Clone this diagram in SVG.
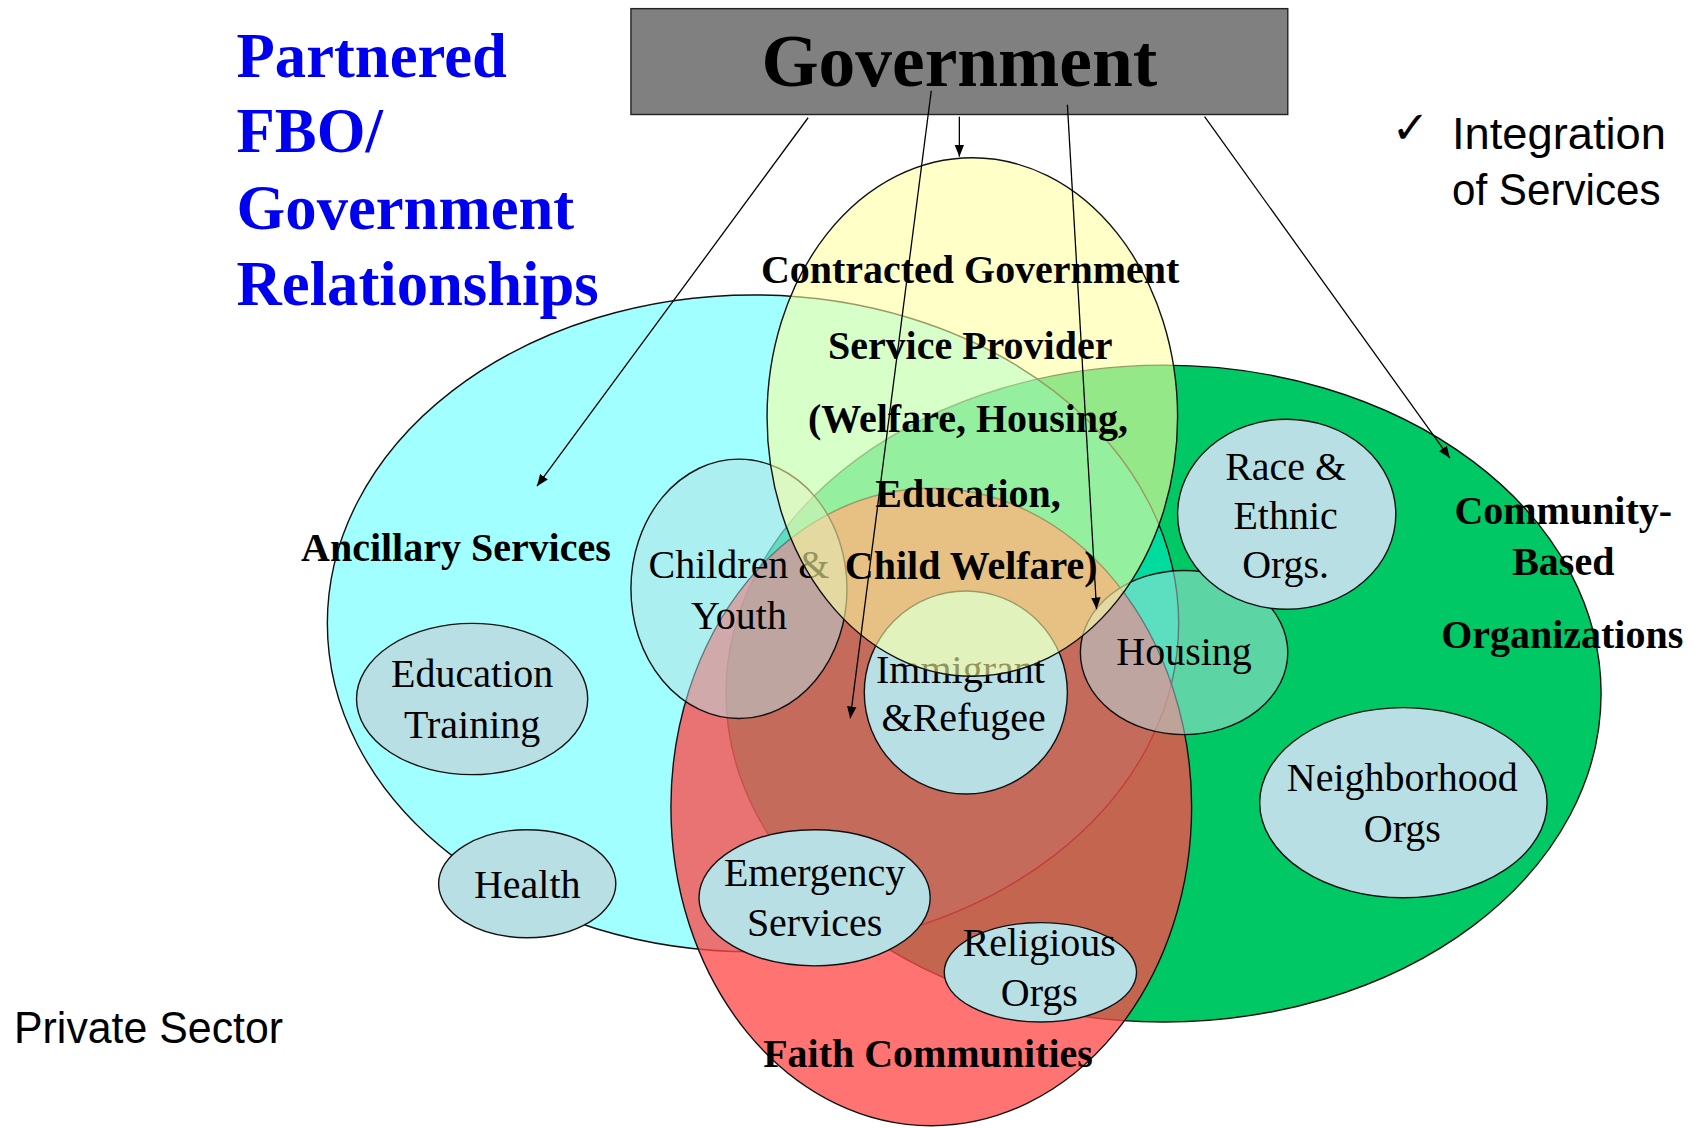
<svg xmlns="http://www.w3.org/2000/svg" width="1694" height="1128" viewBox="0 0 1694 1128">
<defs>
<style>
.big{stroke:#111;stroke-width:1.3}
.sm{fill:#B8DFE4;stroke:#111;stroke-width:1.3}
.smt{fill:#B8DFE4;fill-opacity:0.5;stroke:#111;stroke-width:1.3}
.t{font-family:"Liberation Serif","Times New Roman",serif;font-size:37px;fill:#000;text-anchor:middle}
.b{font-weight:bold}
.s{font-family:"Liberation Sans",Arial,sans-serif;font-size:41px;fill:#000}
.title{font-family:"Liberation Serif","Times New Roman",serif;font-weight:bold;font-size:58px;fill:#0000F0}
.conn{stroke:#000;stroke-width:1.2;fill:none;marker-end:url(#ah)}
</style>
<marker id="ah" viewBox="0 0 10 8" refX="10" refY="4" markerWidth="11" markerHeight="9" markerUnits="userSpaceOnUse" orient="auto"><path d="M0,0 L10,4 L0,8 z" fill="#000"/></marker>
</defs>
<rect width="1694" height="1128" fill="#fff"/>
<g transform="scale(1.080357)">
  <g id="community-based">
    <ellipse class="big" cx="1077" cy="642" rx="405" ry="304" fill="#00C864"/>
  </g>
  <g id="ancillary-services">
    <ellipse class="big" cx="697" cy="577" rx="394" ry="304" fill="#00FFFF" fill-opacity="0.37"/>
  </g>
  <g id="faith-communities">
    <ellipse class="big" cx="862" cy="747" rx="241" ry="295" fill="rgb(255,73,73)" fill-opacity="0.77"/>
  </g>
  <g id="children-youth">
    <ellipse class="smt" cx="684" cy="545" rx="100" ry="120"/>
    <text class="t"><tspan x="684" y="535">Children &amp;</tspan><tspan x="684" y="582">Youth</tspan></text>
  </g>
  <g id="housing">
    <ellipse class="smt" cx="1096" cy="604" rx="96" ry="76"/>
    <text class="t" x="1096" y="616">Housing</text>
  </g>
  <g id="immigrant-refugee">
    <ellipse class="sm" cx="894" cy="641" rx="94" ry="94"/>
    <text class="t"><tspan x="889" y="632">Immigrant</tspan><tspan x="892" y="677">&amp;Refugee</tspan></text>
  </g>
  <g id="contracted-government">
    <ellipse class="big" cx="900" cy="386" rx="190" ry="240" fill="rgb(255,255,160)" fill-opacity="0.58"/>
  </g>
  <g id="education-training">
    <ellipse class="sm" cx="437" cy="647" rx="107" ry="70"/>
    <text class="t"><tspan x="437" y="636">Education</tspan><tspan x="437" y="683">Training</tspan></text>
  </g>
  <g id="health">
    <ellipse class="sm" cx="488" cy="818" rx="82" ry="50"/>
    <text class="t" x="488" y="831">Health</text>
  </g>
  <g id="race-ethnic">
    <ellipse class="sm" cx="1191" cy="476" rx="101" ry="88"/>
    <text class="t"><tspan x="1190" y="444">Race &amp;</tspan><tspan x="1190" y="490">Ethnic</tspan><tspan x="1190" y="535">Orgs.</tspan></text>
  </g>
  <g id="neighborhood">
    <ellipse class="sm" cx="1299" cy="743" rx="133" ry="88"/>
    <text class="t"><tspan x="1298" y="732">Neighborhood</tspan><tspan x="1298" y="779">Orgs</tspan></text>
  </g>
  <g id="emergency">
    <ellipse class="sm" cx="754" cy="831" rx="107" ry="63"/>
    <text class="t"><tspan x="754" y="820">Emergency</tspan><tspan x="754" y="866">Services</tspan></text>
  </g>
  <g id="religious">
    <ellipse class="sm" cx="963" cy="900" rx="89" ry="46"/>
    <text class="t"><tspan x="962" y="885">Religious</tspan><tspan x="962" y="931">Orgs</tspan></text>
  </g>
  <g id="labels">
    <text class="t b"><tspan x="898" y="262">Contracted Government</tspan><tspan x="898" y="332">Service Provider</tspan><tspan x="896" y="400">(Welfare, Housing,</tspan><tspan x="896" y="469">Education,</tspan><tspan x="899" y="536">Child Welfare)</tspan></text>
    <text class="t b" x="422" y="519">Ancillary Services</text>
    <text class="t b"><tspan x="1447" y="485">Community-</tspan><tspan x="1447" y="532">Based</tspan><tspan x="1446" y="600">Organizations</tspan></text>
    <text class="t b" x="859" y="988">Faith Communities</text>
  </g>
  <g id="government">
    <rect x="584" y="8" width="608" height="98" fill="#808080" stroke="#222" stroke-width="1.3"/>
    <text class="t b" x="888" y="80" style="font-size:68px">Government</text>
  </g>
  <g id="connectors">
    <line class="conn" x1="748" y1="109" x2="497" y2="450"/>
    <line class="conn" x1="888" y1="108" x2="888" y2="145"/>
    <line class="conn" x1="862" y1="84" x2="787" y2="665"/>
    <line class="conn" x1="988" y1="97" x2="1015" y2="564"/>
    <line class="conn" x1="1115" y1="108" x2="1342" y2="424"/>
  </g>
  <g id="title">
    <text class="title"><tspan x="219" y="71">Partnered</tspan><tspan x="219" y="141">FBO/</tspan><tspan x="219" y="212">Government</tspan><tspan x="219" y="282">Relationships</tspan></text>
  </g>
  <g id="integration">
    <text x="1288" y="132" style="font-family:'DejaVu Sans',sans-serif;font-size:42px;font-weight:bold;fill:#000">✓</text>
    <text class="s" x="1344" y="138" textLength="198" lengthAdjust="spacingAndGlyphs">Integration</text>
    <text class="s" x="1344" y="190" textLength="193" lengthAdjust="spacingAndGlyphs">of Services</text>
  </g>
  <g id="private-sector">
    <text class="s" x="13" y="965" textLength="249" lengthAdjust="spacingAndGlyphs">Private Sector</text>
  </g>
</g>
</svg>
